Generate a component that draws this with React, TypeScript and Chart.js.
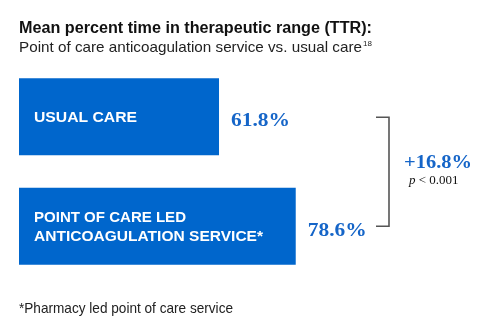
import React, { useEffect, useRef } from "react";
import { Chart, registerables } from "chart.js";

Chart.register(...registerables);

// ---- data ----
const categories: (string | string[])[] = [
  "USUAL CARE",
  ["POINT OF CARE LED", "ANTICOAGULATION SERVICE*"],
];
const ttrValues: number[] = [61.8, 78.6];
const titleText = "Mean percent time in therapeutic range (TTR):";
const subtitleText = "Point of care anticoagulation service vs. usual care";
const subtitleRef = "18";
const pValueText = ["p", " < 0.001"];
const footnoteText = "*Pharmacy led point of care service";

// ---- styles ----
const BLUE = "#0066CC";
const TEXT_BLUE = "#1565C8";
const SANS = '"Liberation Sans", Arial, sans-serif';
const SERIF = '"Liberation Serif", "Times New Roman", serif';
const X_MIN = 18;
const X_MAX = 117.2;

function drawText(
  ctx: CanvasRenderingContext2D,
  text: string,
  x: number,
  y: number,
  font: string,
  color: string,
  width?: number
): number {
  ctx.save();
  ctx.font = font;
  ctx.fillStyle = color;
  ctx.textAlign = "left";
  ctx.textBaseline = "alphabetic";
  const w = ctx.measureText(text).width;
  const sx = width ? width / w : 1;
  ctx.translate(x, y);
  ctx.scale(sx, 1);
  ctx.fillText(text, 0, 0);
  ctx.restore();
  return w * sx;
}

const annotations = {
  id: "ttrAnnotations",
  afterDatasetsDraw(chart: any) {
    const ctx: CanvasRenderingContext2D = chart.ctx;
    const meta = chart.getDatasetMeta(0);
    const bars = meta.data;
    const left = chart.chartArea.left;

    // title + subtitle
    drawText(ctx, titleText, 19, 33, `bold 16px ${SANS}`, "#111", 353);
    const sw = drawText(ctx, subtitleText, 19, 52, `15px ${SANS}`, "#222", 343);
    drawText(ctx, subtitleRef, 19 + sw + 1, 46, `8px ${SANS}`, "#222");

    // bar labels and values
    bars.forEach((bar: any, i: number) => {
      const lines = Array.isArray(categories[i]) ? (categories[i] as string[]) : [categories[i] as string];
      const lh = 19;
      const cap = 10.8;
      const first = bar.y + cap / 2 - ((lines.length - 1) * lh) / 2;
      const widths = lines.length === 1 ? [103] : [152, 229];
      lines.forEach((ln, j) => {
        drawText(ctx, ln, left + 15, first + j * lh, `bold 15px ${SANS}`, "#fff", widths[j]);
      });
      drawText(
        ctx,
        ttrValues[i].toFixed(1) + "%",
        bar.x + 12,
        bar.y + 9.5,
        `bold 19px ${SERIF}`,
        TEXT_BLUE,
        59
      );
    });

    // bracket
    const yTop = bars[0].y + 0.5;
    const yBot = bars[1].y;
    const xv = 389;
    ctx.save();
    ctx.strokeStyle = "#555";
    ctx.lineWidth = 1.6;
    ctx.beginPath();
    ctx.moveTo(376, yTop);
    ctx.lineTo(xv, yTop);
    ctx.lineTo(xv, yBot);
    ctx.lineTo(376, yBot);
    ctx.stroke();
    ctx.restore();

    // difference
    const diff = ttrValues[1] - ttrValues[0];
    drawText(ctx, "+" + diff.toFixed(1) + "%", 404, 168, `bold 18px ${SERIF}`, TEXT_BLUE, 68);
    const pw = drawText(ctx, pValueText[0], 409, 184, `italic 13px ${SERIF}`, "#111");
    drawText(ctx, pValueText[1], 409 + pw, 184, `13px ${SERIF}`, "#111");

    // footnote
    drawText(ctx, footnoteText, 19, 313, `14.5px ${SANS}`, "#222", 214);
  },
};

export default function App() {
  const ref = useRef<HTMLCanvasElement | null>(null);
  useEffect(() => {
    if (!ref.current) return;
    const chart = new Chart(ref.current, {
      type: "bar",
      data: {
        labels: categories.map((c) => (Array.isArray(c) ? c.join(" ") : c)),
        datasets: [
          {
            data: ttrValues,
            backgroundColor: BLUE,
            borderWidth: 0,
            barPercentage: 1,
            categoryPercentage: 77 / 109.5,
          },
        ],
      },
      options: {
        indexAxis: "y",
        responsive: false,
        animation: false,
        layout: { padding: { left: 19, top: 62, right: 20, bottom: 47 } },
        scales: {
          x: { min: X_MIN, max: X_MAX, display: false },
          y: { display: false },
        },
        plugins: {
          legend: { display: false },
          tooltip: { enabled: false },
          title: { display: false },
        },
      },
      plugins: [annotations],
    });
    return () => chart.destroy();
  }, []);
  return (
    <div style={{ position: "fixed", left: 0, top: 0, width: 492, height: 328, background: "#fff" }}>
      <canvas ref={ref} width={492} height={328} />
    </div>
  );
}
